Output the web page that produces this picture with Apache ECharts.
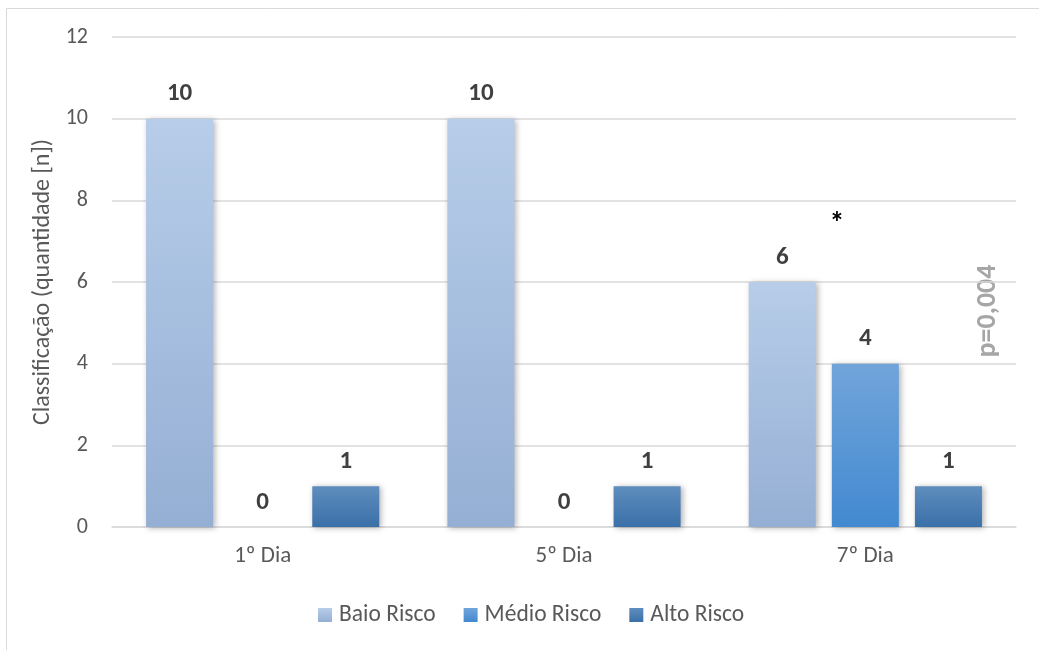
<!DOCTYPE html>
<html>
<head>
<meta charset="utf-8">
<script src="https://cdn.jsdelivr.net/npm/echarts@6/dist/echarts.min.js"></script>
<style>
  html, body { margin: 0; padding: 0; background: #fff; }
  #chart { width: 1039px; height: 650px; }
</style>
</head>
<body>
<div id="chart"></div>
<script>
// data
const days = ["1º Dia", "5º Dia", "7º Dia"];
const baioRisco = [10, 10, 6];
const medioRisco = [0, 0, 4];
const altoRisco = [1, 1, 1];
const yTicks = [0, 2, 4, 6, 8, 10, 12];

const FONT = 'Carlito, "Open Sans", sans-serif';

function grad(top, bottom) {
  return new echarts.graphic.LinearGradient(0, 0, 0, 1, [
    { offset: 0, color: top },
    { offset: 1, color: bottom },
  ]);
}

// one bar series, same look for all three
function barSeries(name, data, top, bottom) {
  return {
    name: name,
    type: "bar",
    data: data,
    barGap: "24%",
    barCategoryGap: "22.6%",
    itemStyle: {
      color: grad(top, bottom),
      shadowBlur: 6,
      shadowColor: "rgba(0,0,0,0.3)",
      shadowOffsetX: 2,
      shadowOffsetY: 1,
    },
    label: {
      show: true,
      position: "top",
      distance: 12,
      fontFamily: FONT,
      fontWeight: "bold",
      fontSize: 25,
      color: "#404040",
    },
  };
}

const chart = echarts.init(document.getElementById("chart"));

chart.setOption({
  animation: false,
  grid: { left: 112, right: 23, top: 37, bottom: 123 },
  legend: {
    bottom: 18,
    left: 313,
    icon: "rect",
    itemWidth: 14,
    itemHeight: 14,
    itemGap: 28,
    textStyle: { fontFamily: FONT, fontSize: 23.5, color: "#595959", padding: [0, 0, 0, 2] },
    data: [
      { name: "Baio Risco", itemStyle: { color: grad("#b7cde9", "#95afd4") } },
      { name: "Médio Risco", itemStyle: { color: grad("#71a5da", "#4289d0") } },
      { name: "Alto Risco", itemStyle: { color: grad("#5f8dbe", "#3a70a8") } },
    ],
  },
  xAxis: {
    type: "category",
    data: days,
    axisTick: { show: false },
    axisLine: { show: true, lineStyle: { color: "#d9d9d9", width: 1.5 } },
    axisLabel: { fontFamily: FONT, fontSize: 23, color: "#595959", margin: 18 },
  },
  yAxis: {
    type: "value",
    min: yTicks[0],
    max: yTicks[yTicks.length - 1],
    interval: 2,
    name: "Classificação (quantidade [n])",
    nameLocation: "middle",
    nameGap: 55,
    nameTextStyle: { fontFamily: FONT, fontSize: 24, color: "#595959" },
    axisLine: { show: false },
    axisTick: { show: false },
    axisLabel: { fontFamily: FONT, fontSize: 22, color: "#595959", margin: 24 },
    splitLine: { lineStyle: { color: "#d9d9d9", width: 1.5 } },
  },
  series: [
    barSeries("Baio Risco", baioRisco, "#b7cde9", "#95afd4"),
    barSeries("Médio Risco", medioRisco, "#71a5da", "#4289d0"),
    barSeries("Alto Risco", altoRisco, "#5f8dbe", "#3a70a8"),
  ],
  graphic: [
    {
      type: "rect",
      shape: { x: 6.5, y: 8.5, width: 1100, height: 700 },
      style: { fill: "none", stroke: "#d9d9d9", lineWidth: 1 },
      silent: true,
    },
    {
      type: "text",
      x: 837,
      y: 224,
      style: {
        text: "*",
        fontFamily: FONT,
        fontWeight: "bold",
        fontSize: 30,
        fill: "#000",
        align: "center",
        verticalAlign: "middle",
      },
    },
    {
      type: "text",
      x: 988,
      y: 311,
      rotation: Math.PI / 2,
      style: {
        text: "p=0,004",
        fontFamily: FONT,
        fontWeight: "bold",
        fontSize: 28,
        fill: "#a6a6a6",
        align: "center",
        verticalAlign: "middle",
      },
    },
  ],
});
</script>
</body>
</html>
